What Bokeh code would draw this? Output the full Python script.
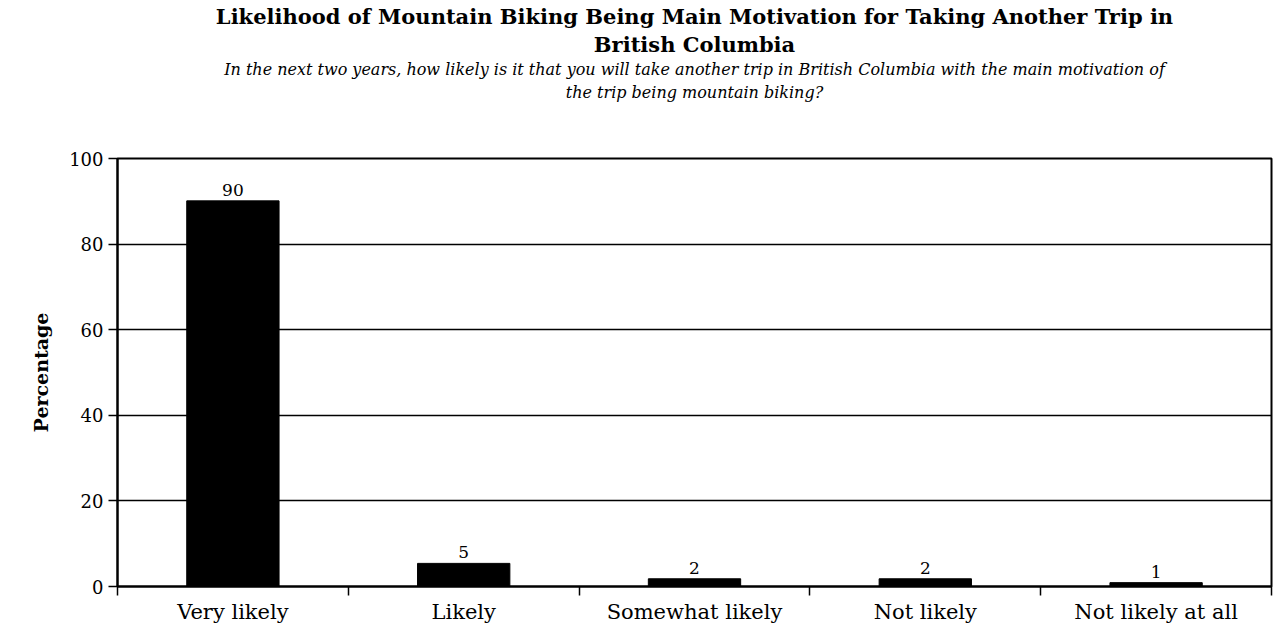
from bokeh.plotting import figure
from bokeh.models import Title, FixedTicker, Range1d, ColumnDataSource
from bokeh.core.properties import value
from bokeh.embed import file_html
from bokeh.resources import INLINE

categories = ["Very likely", "Likely", "Somewhat likely", "Not likely", "Not likely at all"]
percentages = [90.1, 5.4, 1.8, 1.8, 0.9]
y_ticks = [0, 20, 40, 60, 80, 100]

title_lines = ["Likelihood of Mountain Biking Being Main Motivation for Taking Another Trip in",
               "British Columbia"]
subtitle_lines = ["In the next two years, how likely is it that you will take another trip in British Columbia with the main motivation of",
                  "the trip being mountain biking?"]

FONT = "DejaVu Serif"

centers = [i + 0.5 for i in range(len(categories))]
labels = [str(int(round(v))) for v in percentages]
src = ColumnDataSource(dict(x=centers, top=percentages, label=labels))

p = figure(width=1273, height=626, output_backend="svg", toolbar_location=None,
           title=None, x_range=Range1d(0, len(categories)), y_range=Range1d(0, 100),
           min_border_left=117, min_border_right=2, min_border_bottom=39, min_border_top=0)

# titles (added inner-most first)
p.add_layout(Title(text=" ", text_font=FONT, text_font_size="40px", standoff=8), "above")
p.add_layout(Title(text=subtitle_lines[1], align="center", text_font=FONT, text_font_size="16px",
                   text_font_style="italic", text_color="black", standoff=0), "above")
p.add_layout(Title(text=subtitle_lines[0], align="center", text_font=FONT, text_font_size="16px",
                   text_font_style="italic", text_color="black", standoff=3), "above")
p.add_layout(Title(text=title_lines[1], align="center", text_font=FONT, text_font_size="21px",
                   text_font_style="bold", text_color="black", standoff=0), "above")
p.add_layout(Title(text=title_lines[0], align="center", text_font=FONT, text_font_size="21px",
                   text_font_style="bold", text_color="black", standoff=2), "above")

p.vbar(x="x", top="top", width=0.4, source=src, fill_color="black", line_color="black")
p.text(x="x", y="top", text="label", source=src, text_align="center", text_baseline="bottom",
       y_offset=-5, text_font=value(FONT), text_font_size="17px", text_color="black")

p.outline_line_color = "black"
p.outline_line_width = 2
p.background_fill_color = "white"
p.border_fill_color = "white"

p.xgrid.visible = False
p.ygrid.grid_line_color = "black"
p.ygrid.grid_line_width = 1.5
p.ygrid.ticker = FixedTicker(ticks=y_ticks)

p.yaxis.ticker = FixedTicker(ticks=y_ticks)
p.yaxis.axis_label = "Percentage"
p.yaxis.axis_label_text_font = FONT
p.yaxis.axis_label_text_font_style = "bold"
p.yaxis.axis_label_text_font_size = "19px"
p.yaxis.axis_label_standoff = 14
p.yaxis.major_label_text_font = FONT
p.yaxis.major_label_text_font_size = "18px"
p.yaxis.major_label_standoff = 5
p.yaxis.major_tick_out = 9
p.yaxis.major_tick_in = 0
p.yaxis.minor_tick_out = 0
p.yaxis.minor_tick_in = 0
p.yaxis.axis_line_width = 2
p.yaxis.major_tick_line_width = 1.5

p.xaxis.ticker = FixedTicker(ticks=centers, minor_ticks=list(range(len(categories) + 1)))
p.xaxis.major_label_overrides = {c: cat for c, cat in zip(centers, categories)}
p.xaxis.major_label_text_font = FONT
p.xaxis.major_label_text_font_size = "21px"
p.xaxis.major_label_standoff = 4
p.xaxis.major_tick_out = 0
p.xaxis.major_tick_in = 0
p.xaxis.minor_tick_out = 9
p.xaxis.minor_tick_in = 0
p.xaxis.minor_tick_line_width = 1.5
p.xaxis.axis_line_width = 2

for ax in (p.xaxis, p.yaxis):
    ax.axis_line_color = "black"
    ax.major_tick_line_color = "black"
    ax.minor_tick_line_color = "black"
    ax.major_label_text_color = "black"
    ax.axis_label_text_color = "black"

open("out.html", "w").write(file_html(p, INLINE))
